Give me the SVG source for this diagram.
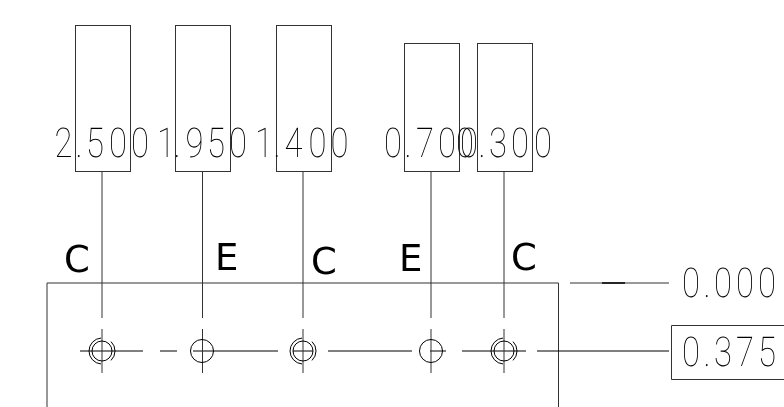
<svg xmlns="http://www.w3.org/2000/svg" width="784" height="407" viewBox="0 0 784 407">
<defs><filter id="gray" x="-5%" y="-20%" width="110%" height="140%" color-interpolation-filters="sRGB"><feOffset dx="0" dy="0"/></filter></defs>
<style>
.l{fill:none;stroke:#000;stroke-width:1}
.g{fill:none;stroke:#333;stroke-width:1}
.d{font-family:"Roboto","Liberation Sans",sans-serif;font-weight:100;font-size:41px;fill:#000;text-anchor:middle;text-rendering:geometricPrecision;filter:url(#gray)}
.t{font-family:"DejaVu Sans",sans-serif;font-size:37px;fill:#000;filter:url(#gray)}
</style>
<rect width="784" height="407" fill="#fff"/>
<g id="part"><path class="g" d="M47 407V283H558.500V407"/></g>
<g id="dim-0-000"><path class="g" d="M570 283H669"/><path d="M602 283H625" stroke="#000" stroke-width="1.500"/><text class="d" transform="scale(.8 1)" x="863.800 883.800 903.800 931.300 958.800" y="297">0.000</text></g>
<g id="dim-0-375"><path class="g" d="M785 325.500H671.500V379.500H785"/><text class="d" transform="scale(.8 1)" x="863.800 883.800 903.800 931.300 958.800" y="366">0.375</text></g>
<g id="connectors">
<path class="l" d="M80 351H143M160 351H177M193 351H278M293 351H313M328 351H412M430 351H446M462 351H526M537 351H669"/>
<path class="g" d="M102 171V318M102 329V373M202.500 171V318M202.500 329V373M303 171V318M303 329V373M431 171V318M431 329V373M504 171V318M504 329V373"/>
</g>
<g id="hole-1"><circle class="l" cx="102" cy="351" r="10"/><path class="l" d="M101 338.040A13 13 0 0 0 101 363.960M111 341.600A13 13 0 0 1 111 360.400"/></g>
<g id="hole-2"><circle class="l" cx="202" cy="351" r="11.500"/></g>
<g id="hole-3"><circle class="l" cx="303" cy="351" r="10"/><path class="l" d="M302 338.040A13 13 0 0 0 302 363.960M312 341.600A13 13 0 0 1 312 360.400"/></g>
<g id="hole-4"><circle class="l" cx="431" cy="351" r="11.500"/></g>
<g id="hole-5"><circle class="l" cx="504" cy="351" r="10"/><path class="l" d="M503 338.040A13 13 0 0 0 503 363.960M513 341.600A13 13 0 0 1 513 360.400"/></g>
<g id="tag-1"><rect class="g" x="75.500" y="25.500" width="55" height="146"/><text class="d" transform="scale(.8 1)" x="79.400 98.800 118.800 147.500 175" y="157">2.500</text></g>
<g id="tag-2"><rect class="g" x="175.500" y="25.500" width="55" height="146"/><text class="d" transform="scale(.8 1)" x="207.500 221.300 243.100 270 297.500" y="157">1.950</text></g>
<g id="tag-3"><rect class="g" x="276.500" y="25.500" width="55" height="146"/><text class="d" transform="scale(.8 1)" x="330 346.300 366.900 396.900 424.400" y="157">1.400</text></g>
<g id="tag-4"><rect class="g" x="404.500" y="43.500" width="55" height="128"/><text class="d" transform="scale(.8 1)" x="491.300 510 531.300 558.800 581.300" y="157">0.700</text></g>
<g id="tag-5"><rect class="g" x="477.500" y="43.500" width="55" height="128"/><text class="d" transform="scale(.8 1)" x="586.300 602.500 622.500 650 678.800" y="157">0.300</text></g>
<g id="label-1"><text class="t" x="64" y="272">C</text></g>
<g id="label-2"><text class="t" x="215" y="270">E</text></g>
<g id="label-3"><text class="t" x="311" y="273.500">C</text></g>
<g id="label-4"><text class="t" x="399" y="270.500">E</text></g>
<g id="label-5"><text class="t" x="511" y="270">C</text></g>
</svg>
